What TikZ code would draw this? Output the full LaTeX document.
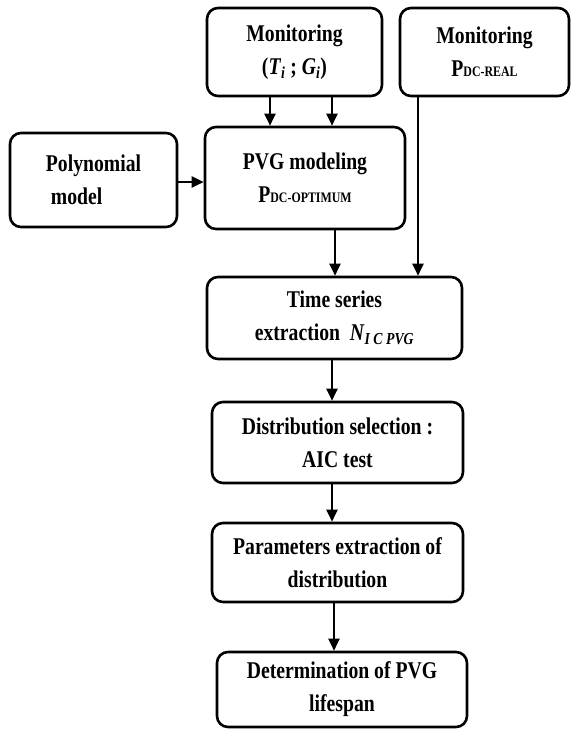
\documentclass[tikz,border=0pt]{standalone}
\usepackage{fontspec}
\setmainfont{Liberation Serif}[FakeStretch=0.82]
\usetikzlibrary{arrows.meta}
\newcommand{\smallsub}[1]{{\fontsize{14.5}{14.5}\selectfont #1}}
\begin{document}
\begin{tikzpicture}[x=1pt,y=-1pt,
  box/.style={draw=black,line width=2.6pt,rounded corners=11pt,align=center,
    font=\fontsize{24}{33}\selectfont\bfseries,inner sep=0pt},
  arr/.style={line width=2.4pt,-{Triangle[width=11pt,length=12pt]}}]
\useasboundingbox (0,0) rectangle (571,729);
\node[box,minimum width=175pt,minimum height=88pt] (m1) at (294.5,52)
  {Monitoring\\(\textit{T}\textsubscript{\textit{i}}\ ;\ \textit{G}\textsubscript{\textit{i}})};
\node[box,minimum width=169pt,minimum height=88pt] (m2) at (484.5,52)
  {Monitoring\\P\smallsub{DC-REAL}};
\node[box,minimum width=167pt,minimum height=94pt,align=left] (poly) at (93.5,180)
  {Polynomial\\\hspace*{5pt}model};
\node[box,minimum width=200pt,minimum height=102pt] (pvg) at (305,178)
  {PVG modeling\\P\smallsub{DC-OPTIMUM}};
\node[box,minimum width=255pt,minimum height=82pt] (ts) at (334.5,318)
  {Time series\\extraction \ \textit{N}\textsubscript{\textit{I C PVG}}};
\node[box,minimum width=251pt,minimum height=81pt] (dist) at (337.5,442.5)
  {Distribution selection :\\AIC test};
\node[box,minimum width=251pt,minimum height=79pt] (par) at (337.5,562.5)
  {Parameters extraction of\\distribution};
\node[box,minimum width=250pt,minimum height=75pt] (det) at (342,689.5)
  {Determination of PVG\\lifespan};
\coordinate (xa) at (270,0);
\coordinate (xb) at (332,0);
\coordinate (xc) at (418,0);
\coordinate (xd) at (335,0);
\coordinate (xe) at (334,0);
\coordinate (ya) at (0,182);
\draw[arr] (m1.south -| xa) -- (pvg.north -| xa);
\draw[arr] (m1.south -| xb) -- (pvg.north -| xb);
\draw[arr] (poly.east |- ya) -- (pvg.west |- ya);
\draw[arr] (m2.south -| xc) -- (ts.north -| xc);
\draw[arr] (pvg.south -| xd) -- (ts.north -| xd);
\draw[arr] (ts.south -| xb) -- (dist.north -| xb);
\draw[arr] (dist.south -| xb) -- (par.north -| xb);
\draw[arr] (par.south -| xe) -- (det.north -| xe);
\end{tikzpicture}
\end{document}
